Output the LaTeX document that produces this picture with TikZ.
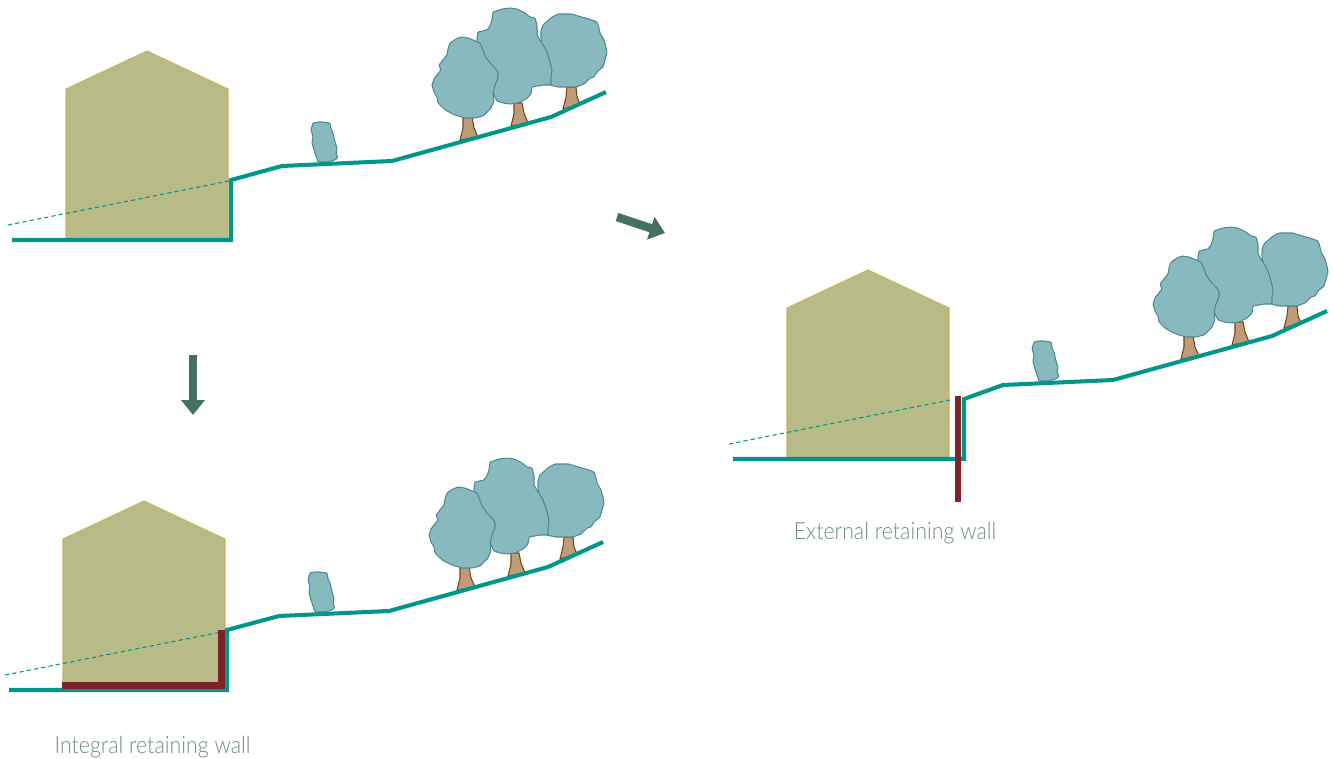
\documentclass[tikz,border=0pt]{standalone}
\usepackage{fontspec}
\usepackage{xcolor}
\usepackage{tikz}
\usetikzlibrary{arrows.meta}
\newfontfamily\capfont{Lato}[UprightFont=* Light,FakeStretch=0.9]
\definecolor{groundline}{HTML}{00978A}
\definecolor{housefill}{HTML}{B8BA88}
\definecolor{houseedge}{HTML}{CBB65C}
\definecolor{crownfill}{HTML}{88B9BF}
\definecolor{crownedge}{HTML}{4D8A8E}
\definecolor{trunkfill}{HTML}{C09B78}
\definecolor{trunkedge}{HTML}{7A4212}
\definecolor{wallred}{HTML}{7B2328}
\definecolor{stepgreen}{HTML}{46705F}
\definecolor{captiongrey}{HTML}{6F8B88}

% house, old grade, trees and terrain; #1 = x of the cut in the slope
\newcommand\hillside[1]{%
  \filldraw[house](66,240)--(66,89)--(147,51)--(228,89)--(228,240)--cycle;
  \draw[oldgrade](8,225)--(229,181);
  \filldraw[trunk](567,87)--(576,87)--(577,97)--(580,104)--(563,109)--(566,97)--cycle;
  \filldraw[crown](543,25)--(552,17)--(558,14)--(572,14)--(578,16)--(585,18)--(592,20)--(597,22)--(599,28)--(600,33)--(604,40)--(606,47)--(607,53)--(605,60)--(603,67)--(597,72)--(594,77)--(590,78)--(584,84)--(576,87)--(566,87)--(558,87)--(550,85)--(549,80)--(548,75)--(550,68)--(548,60)--(545,53)--(542,46)--(541,38)--(541,31)--cycle;
  \filldraw[trunk](514,103)--(522,103)--(524,113)--(528,123)--(511,126)--(514,114)--cycle;
  \filldraw[crown](493,12)--(502,9)--(510,8)--(517,9)--(525,13)--(530,17)--(535,18)--(537,25)--(537,35)--(540,40)--(545,48)--(548,55)--(550,62)--(552,70)--(551,78)--(551,85)--(543,85)--(532,87)--(531,94)--(526,99)--(518,103)--(510,104)--(503,103)--(497,101)--(494,95)--(492,88)--(488,80)--(483,70)--(478,55)--(477,45)--(477,38)--(478,32)--(487,30)--(490,26)--(492,20)--cycle;
  \filldraw[trunk](463,117)--(472,117)--(474,128)--(478,137)--(460,140)--(463,128)--cycle;
  \filldraw[crown](450,43)--(456,39)--(461,37)--(468,38)--(473,40)--(480,43)--(483,50)--(485,56)--(490,63)--(495,68)--(498,72)--(498,78)--(495,85)--(493,93)--(494,101)--(491,108)--(487,112)--(483,116)--(475,118)--(465,118)--(455,115)--(447,111)--(443,108)--(438,103)--(437,97)--(434,92)--(432,85)--(434,79)--(437,75)--(441,70)--(439,65)--(443,60)--(447,55)--(448,49)--cycle;
  \filldraw[crown](313,123)--(318,122)--(323,122)--(330,123)--(331,129)--(333,133)--(335,142)--(337,148)--(336,154)--(338,157)--(335,160)--(327,162)--(318,162)--(315,153)--(312,143)--(313,136)--(311,130)--cycle;
  \draw[terrain](12,240)-|(#1,180)--(282,166)--(392,161)--(551,117)--(606,92);
}

\begin{document}
\begin{tikzpicture}[x=0.02cm,y=-0.02cm,
  house/.style={fill=housefill,draw=houseedge,line width=0.6pt},
  oldgrade/.style={groundline,line width=0.6pt,dash pattern=on 2.4pt off 1.8pt},
  crown/.style={fill=crownfill,draw=crownedge,line width=0.6pt,rounded corners=0.5pt},
  trunk/.style={fill=trunkfill,draw=trunkedge,line width=0.6pt},
  terrain/.style={groundline,line width=2.3pt},
  retwall/.style={wallred,line width=3.8pt},
  steparrow/.style={-{Triangle[length=0.3cm,width=0.46cm]},stepgreen,line width=0.17cm},
  caption/.style={captiongrey,font=\capfont\fontsize{13.5}{15}\selectfont,anchor=base}]
\useasboundingbox(0,0)rectangle(1333,758);
\hillside{231}
\begin{scope}[shift={(-3,450)}]
  \hillside{230}
  \draw[retwall](65,235.5)-|(224.5,180);
\end{scope}
\begin{scope}[shift={(721,219)}]
  \hillside{243}
  \draw[retwall](237,177)--(237,283);
\end{scope}
\coordinate(first)at(617,217);
\coordinate(toright)at(665,233);
\coordinate(above)at(193,355);
\coordinate(below)at(193,415);
\draw[steparrow](first)--(toright);
\draw[steparrow](above)--(below);
\node[caption](integral)at(152.5,753){Integral retaining wall};
\node[caption](external)at(895,539){External retaining wall};
\end{tikzpicture}
\end{document}
